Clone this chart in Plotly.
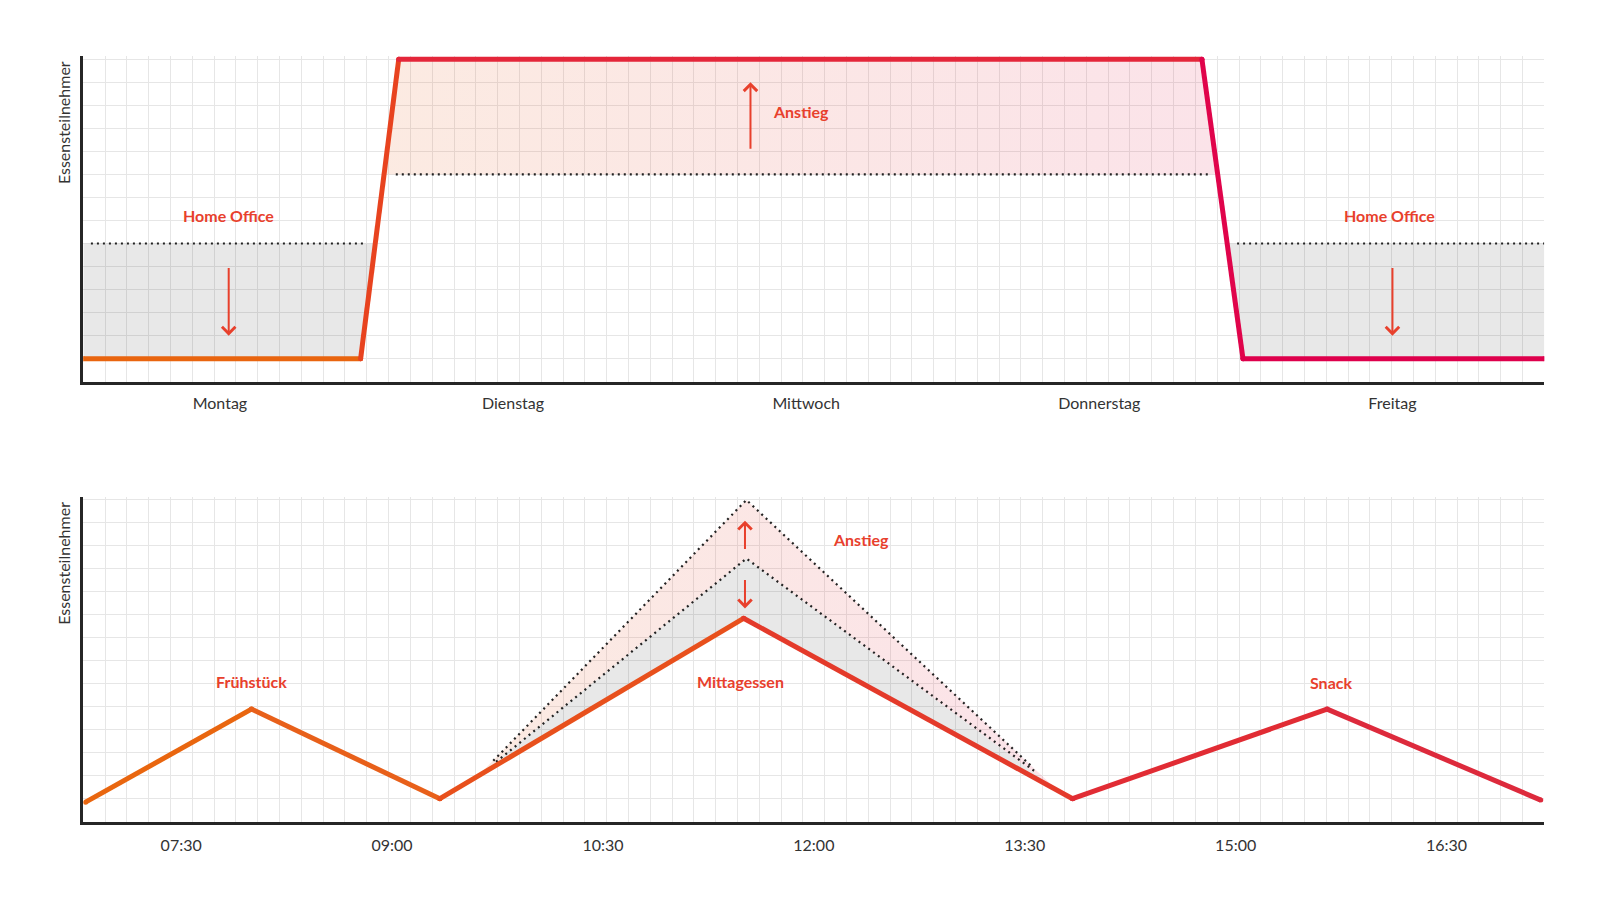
import numpy as np
import plotly.graph_objects as go
from plotly.subplots import make_subplots

# ---- top chart: attendance over the week ----
DAYS = ["Montag", "Dienstag", "Mittwoch", "Donnerstag", "Freitag"]
DAY_POS = [0, 1, 2, 3, 4]
WEEK_X = [-0.466, 0.48, 0.61, 3.35, 3.49, 4.518]
WEEK_Y = [1, 1, 14, 14, 1, 1]
WEEK_COLORS = ["#e9650f", "#e8431f", "#e4263a", "#e0044b", "#de004c"]
HOME_LEVEL = 6
HOME_LEFT_X = [-0.44, 0.49]
HOME_RIGHT_X = [3.47, 4.518]
OFFICE_LEVEL = 9
OFFICE_X = [0.60, 3.37]

# ---- bottom chart: attendance over a day (hours) ----
TIME_TICKS = [7.5, 9, 10.5, 12, 13.5, 15, 16.5]
TIME_LABELS = ["07:30", "09:00", "10:30", "12:00", "13:30", "15:00", "16:30"]
DAY_T = [6.82, 8.0, 9.34, 11.5, 13.84, 15.65, 17.17]
DAY_Y = [0.85, 4.9, 1.0, 8.85, 1.0, 4.9, 0.94]
DAY_COLORS = ["#e9660f", "#e8601a", "#e8501c", "#e43a2a", "#e12c34", "#dd2a3c"]
UPPER_T = [9.72, 11.52, 13.55]
UPPER_Y = [2.65, 14.0, 2.4]
MIDDLE_T = [9.74, 11.52, 13.57]
MIDDLE_Y = [2.6, 11.45, 2.2]
MEET_T = [9.61, 13.74]   # where the dotted peaks meet the main line
MEET_Y = [1.98, 1.33]

WEEK_RANGE = [-0.466, 4.518]
TIME_RANGE = [6.804, 17.195]
Y_RANGE = [0, 14.15]
GRID_COLS = 67

LABEL_COLOR = "#e8402c"
DOT_COLOR = "#222222"
GRID_COLOR = "#e6e6e6"
AXIS_COLOR = "#262626"
GRAY_FILL = "rgba(0,0,0,0.09)"
PINK_SCALE = [[0, "rgba(230,97,30,0.13)"], [1, "rgba(222,22,72,0.12)"]]
FONT = "Lato"

# page has an 8px body margin, so the figure is a bit smaller than the window
W, H, PAGE = 1584, 880, 8


def px_x(px):
    return (px - PAGE) / W


def px_y(px):
    return 1 - (px - PAGE) / H


def x_at_level(xs, ys, level):
    # x where a monotone segment crosses a given y level
    return float(np.interp(level, sorted(ys), xs if ys[0] < ys[1] else xs[::-1]))


fig = make_subplots(rows=2, cols=1)

# ---------- top chart ----------
rise_x = x_at_level(WEEK_X[1:3], WEEK_Y[1:3], HOME_LEVEL)
fall_x = x_at_level(WEEK_X[3:5], WEEK_Y[3:5], HOME_LEVEL)
fig.add_trace(go.Scatter(
    x=[WEEK_X[0], WEEK_X[0], rise_x, WEEK_X[1]],
    y=[WEEK_Y[0], HOME_LEVEL, HOME_LEVEL, WEEK_Y[1]],
    fill="toself", fillcolor=GRAY_FILL, mode="none", hoverinfo="skip"), row=1, col=1)
fig.add_trace(go.Scatter(
    x=[fall_x, WEEK_X[5], WEEK_X[5], WEEK_X[4]],
    y=[HOME_LEVEL, HOME_LEVEL, WEEK_Y[5], WEEK_Y[4]],
    fill="toself", fillcolor=GRAY_FILL, mode="none", hoverinfo="skip"), row=1, col=1)

rise9 = x_at_level(WEEK_X[1:3], WEEK_Y[1:3], OFFICE_LEVEL)
fall9 = x_at_level(WEEK_X[3:5], WEEK_Y[3:5], OFFICE_LEVEL)
fig.add_trace(go.Scatter(
    x=[rise9, WEEK_X[2], WEEK_X[3], fall9],
    y=[OFFICE_LEVEL, WEEK_Y[2], WEEK_Y[3], OFFICE_LEVEL],
    fill="toself", fillgradient=dict(type="horizontal", colorscale=PINK_SCALE),
    mode="none", hoverinfo="skip"), row=1, col=1)

for xs, lvl in [(HOME_LEFT_X, HOME_LEVEL), (HOME_RIGHT_X, HOME_LEVEL), (OFFICE_X, OFFICE_LEVEL)]:
    fig.add_trace(go.Scatter(x=xs, y=[lvl, lvl], mode="lines",
                             line=dict(color=DOT_COLOR, width=2.2, dash="2px,4px")),
                  row=1, col=1)

for i, c in enumerate(WEEK_COLORS):
    fig.add_trace(go.Scatter(x=WEEK_X[i:i + 2], y=WEEK_Y[i:i + 2], mode="lines+markers",
                             line=dict(color=c, width=5), marker=dict(color=c, size=5)),
                  row=1, col=1)

# ---------- bottom chart ----------
fig.add_trace(go.Scatter(
    x=[MEET_T[0], UPPER_T[1], MEET_T[1], MIDDLE_T[1]],
    y=[MEET_Y[0], UPPER_Y[1], MEET_Y[1], MIDDLE_Y[1]],
    fill="toself", fillgradient=dict(type="horizontal", colorscale=PINK_SCALE),
    mode="none", hoverinfo="skip"), row=2, col=1)
fig.add_trace(go.Scatter(
    x=[MEET_T[0], MIDDLE_T[1], MEET_T[1], DAY_T[3]],
    y=[MEET_Y[0], MIDDLE_Y[1], MEET_Y[1], DAY_Y[3]],
    fill="toself", fillcolor=GRAY_FILL, mode="none", hoverinfo="skip"), row=2, col=1)

for ts, ys in [(UPPER_T, UPPER_Y), (MIDDLE_T, MIDDLE_Y)]:
    fig.add_trace(go.Scatter(x=ts, y=ys, mode="lines",
                             line=dict(color=DOT_COLOR, width=2.2, dash="2px,4px")),
                  row=2, col=1)

for i, c in enumerate(DAY_COLORS):
    fig.add_trace(go.Scatter(x=DAY_T[i:i + 2], y=DAY_Y[i:i + 2], mode="lines+markers",
                             line=dict(color=c, width=5), marker=dict(color=c, size=5)),
                  row=2, col=1)

# ---------- labels and arrows ----------
week_labels = [("Home Office", 0.03, 7.2, "center"), ("Home Office", 3.99, 7.2, "center"),
               ("Anstieg", 1.88, 11.75, "left")]
week_arrows = [(0.03, 5.0, 2.0), (4.0, 5.0, 2.0), (1.81, 10.05, 13.0)]
day_labels = [("Frühstück", 8.0, 6.09, "center"), ("Mittagessen", 11.48, 6.09, "center"),
              ("Snack", 15.675, 6.06, "center"), ("Anstieg", 12.335, 12.3, "center")]
day_arrows = [(11.51, 11.8, 13.1), (11.51, 10.58, 9.28)]

annotations = []
for (labels, arrows, xr, yr) in [(week_labels, week_arrows, "x", "y"),
                                  (day_labels, day_arrows, "x2", "y2")]:
    for text, x, y, anchor in labels:
        annotations.append(dict(text=f"<b>{text}</b>", x=x, y=y, xref=xr, yref=yr,
                                xanchor=anchor, yanchor="middle", showarrow=False,
                                font=dict(family=FONT, size=16, color=LABEL_COLOR)))
    for x, y0, y1 in arrows:
        annotations.append(dict(text="", x=x, y=y1, ax=x, ay=y0, xref=xr, yref=yr,
                                axref=xr, ayref=yr, showarrow=True, arrowhead=4,
                                arrowsize=1.3, arrowwidth=2, arrowcolor=LABEL_COLOR))

# plot areas in window pixels (left, right, top, bottom)
X0, X1 = 83.3, 1544.3
TOP_Y0, TOP_Y1 = 55.8, 381.7
BOT_Y0, BOT_Y1 = 496.5, 821.7

for ytop in [TOP_Y0 + 3.5, BOT_Y0 + 3.5]:
    annotations.append(dict(text="Essensteilnehmer", textangle=-90, x=px_x(63.3), y=px_y(ytop),
                            xref="paper", yref="paper", xanchor="center", yanchor="top",
                            showarrow=False, font=dict(family=FONT, size=16, color="#333333")))

axis_common = dict(showline=True, linecolor=AXIS_COLOR, linewidth=3, zeroline=False,
                   ticks="outside", ticklen=5, tickcolor="rgba(0,0,0,0)",
                   tickfont=dict(family=FONT, size=16, color="#333333"), showgrid=False)
yaxis_common = dict(range=Y_RANGE, tick0=0, dtick=1, showticklabels=False, showgrid=True,
                    gridcolor=GRID_COLOR, gridwidth=1, showline=True, linecolor=AXIS_COLOR,
                    linewidth=3, zeroline=False, ticks="")

fig.update_layout(
    width=W, height=H,
    margin=dict(l=0, r=0, t=0, b=0),
    showlegend=False,
    plot_bgcolor="white", paper_bgcolor="white",
    annotations=annotations,
    xaxis=dict(axis_common, domain=[px_x(X0), px_x(X1)], range=WEEK_RANGE,
               tickmode="array", tickvals=DAY_POS, ticktext=DAYS,
               minor=dict(tick0=WEEK_RANGE[0], dtick=(WEEK_RANGE[1] - WEEK_RANGE[0]) / GRID_COLS,
                          showgrid=True, gridcolor=GRID_COLOR, gridwidth=1)),
    xaxis2=dict(axis_common, domain=[px_x(X0), px_x(X1)], range=TIME_RANGE,
                tickmode="array", tickvals=TIME_TICKS, ticktext=TIME_LABELS, ticklen=7,
                minor=dict(tick0=TIME_RANGE[0], dtick=(TIME_RANGE[1] - TIME_RANGE[0]) / GRID_COLS,
                           showgrid=True, gridcolor=GRID_COLOR, gridwidth=1)),
    yaxis=dict(yaxis_common, domain=[px_y(TOP_Y1), px_y(TOP_Y0)]),
    yaxis2=dict(yaxis_common, domain=[px_y(BOT_Y1), px_y(BOT_Y0)]),
)

fig.write_html("out.html")
